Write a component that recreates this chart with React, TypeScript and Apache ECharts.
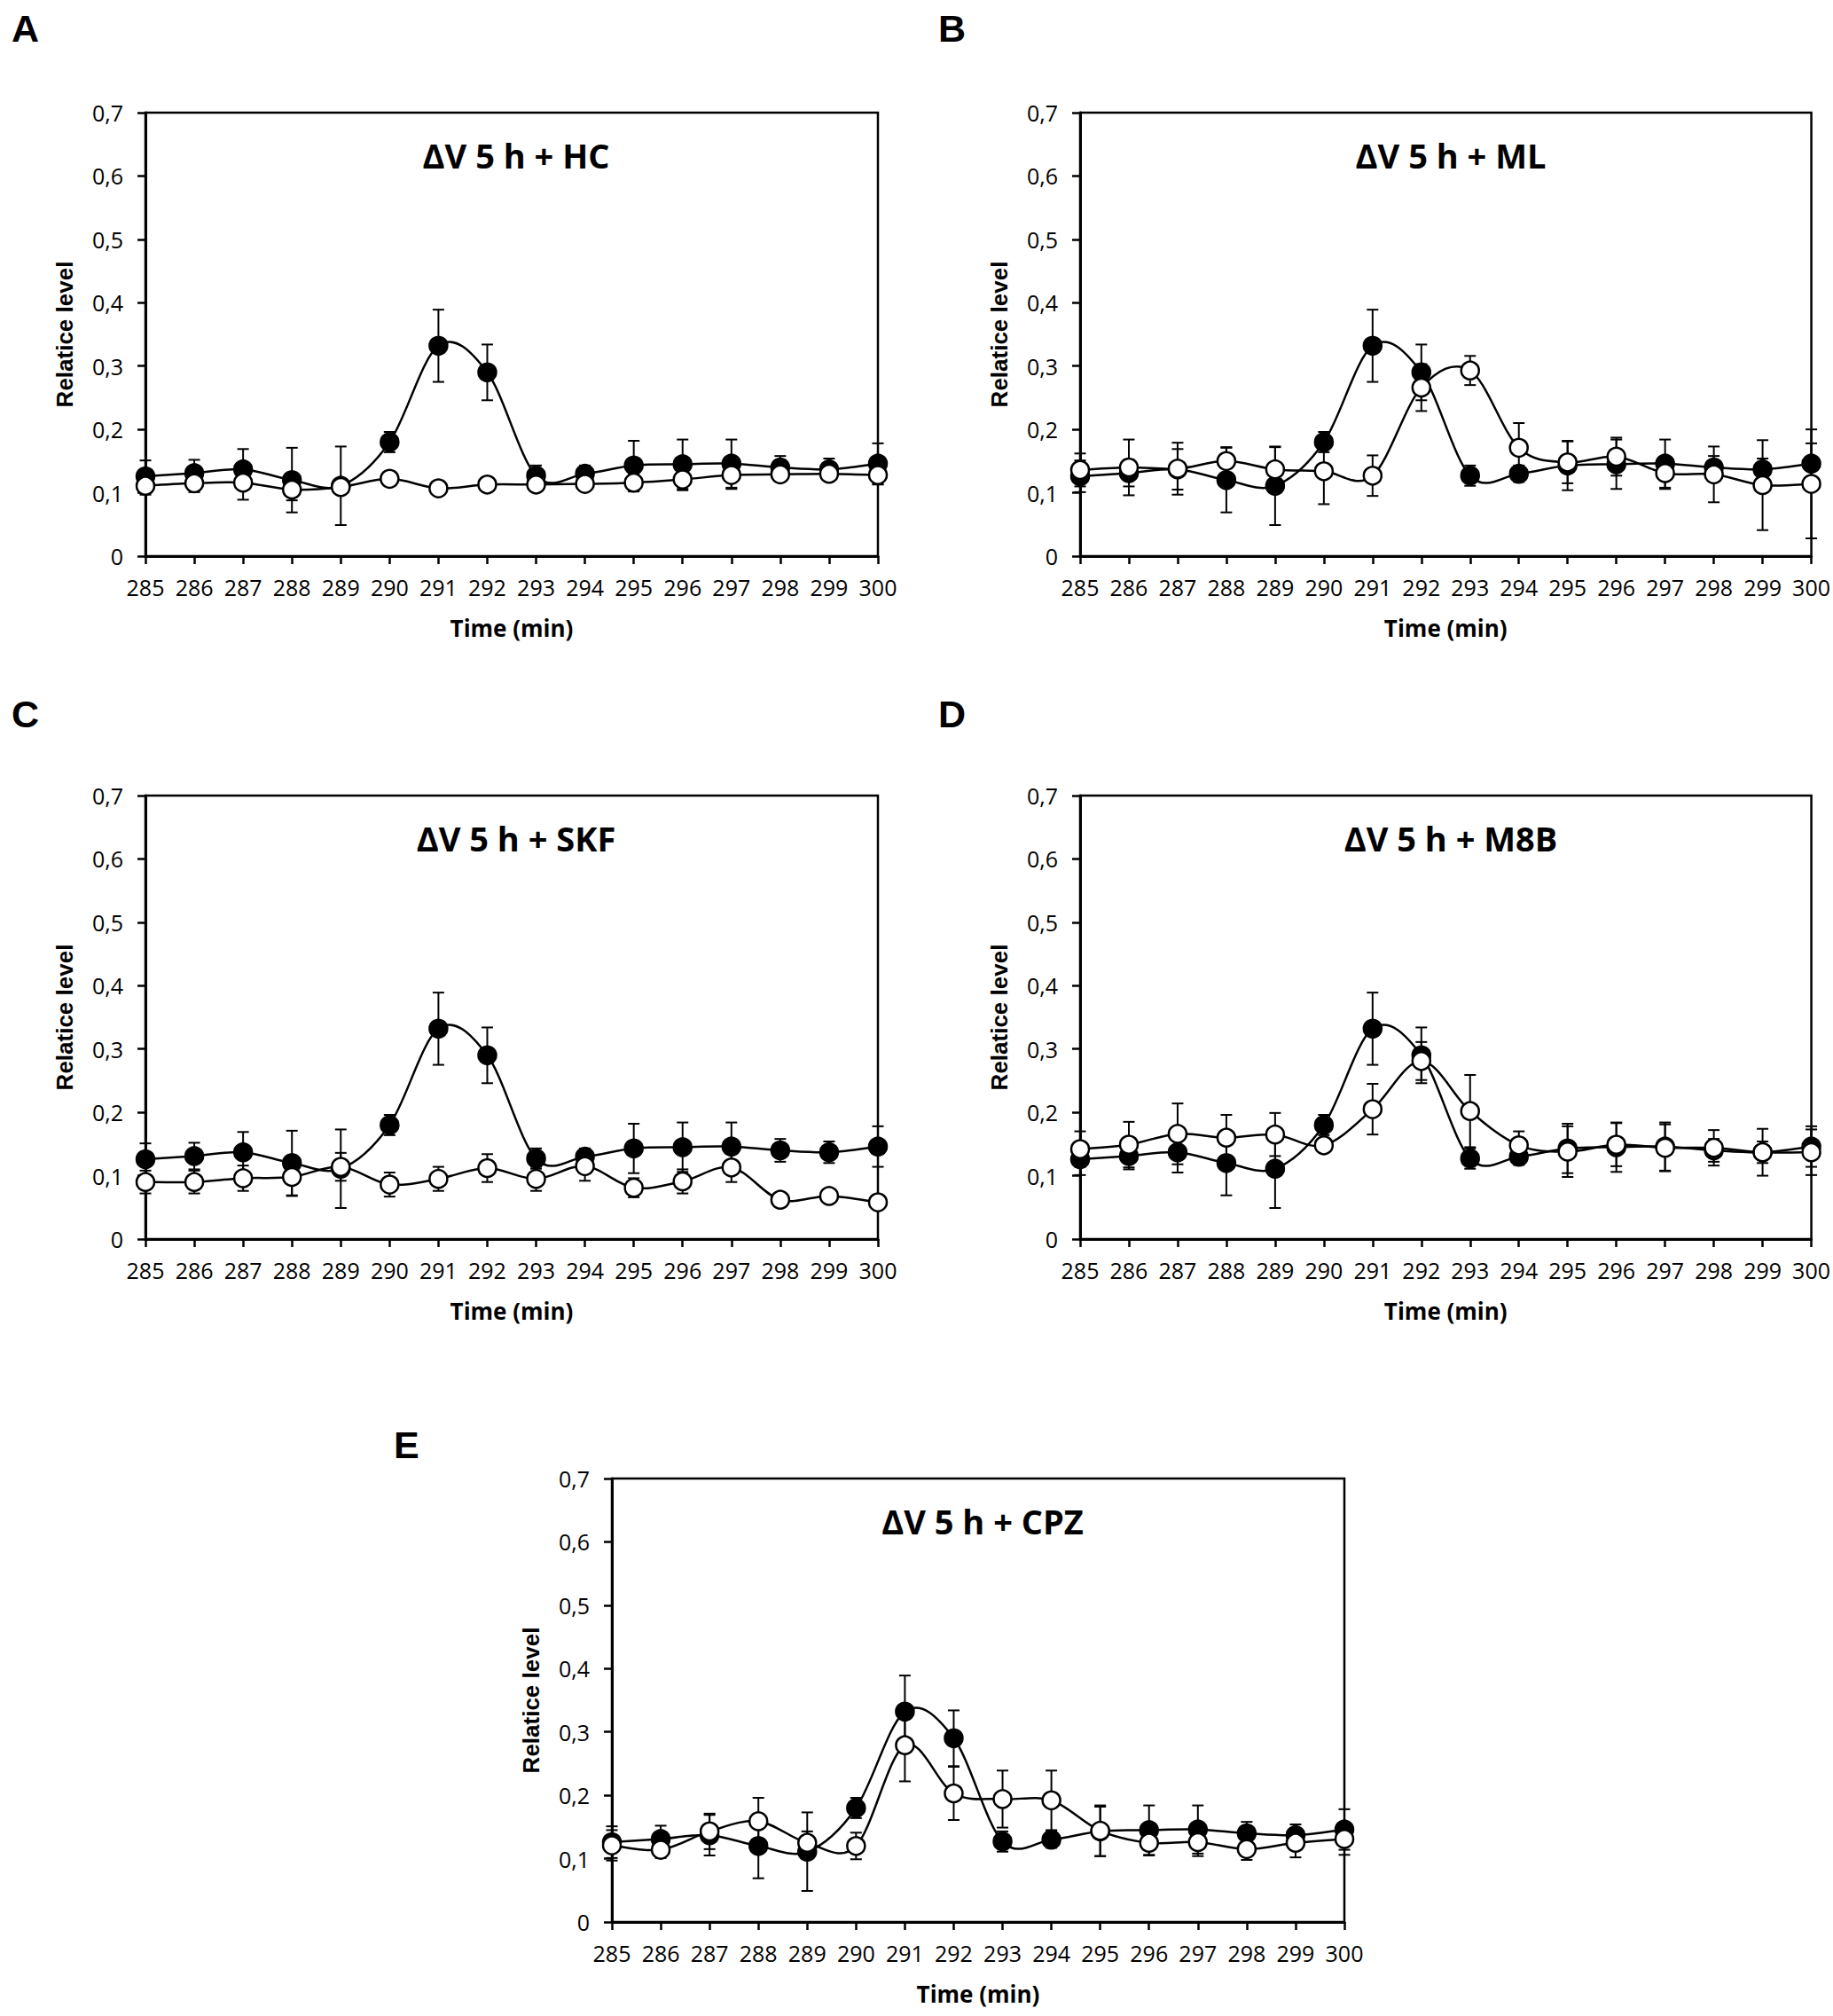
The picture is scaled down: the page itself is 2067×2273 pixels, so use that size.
import React, { useEffect, useRef } from "react";
import * as echarts from "echarts";

// ---- Data ----
const times = [285, 286, 287, 288, 289, 290, 291, 292, 293, 294, 295, 296, 297, 298, 299, 300];

// Filled circles: ΔV 5 h (same in every panel)
const controlValues = [0.126, 0.131, 0.137, 0.12, 0.111, 0.18, 0.332, 0.29, 0.127, 0.13, 0.143, 0.145, 0.146, 0.14, 0.137, 0.146];
const controlErrors = [0.025, 0.021, 0.032, 0.051, 0.062, 0.016, 0.057, 0.044, 0.016, 0.013, 0.039, 0.039, 0.038, 0.018, 0.017, 0.032];

// Open circles per treatment
const hcValues = [0.111, 0.115, 0.116, 0.105, 0.109, 0.122, 0.107, 0.113, 0.113, 0.114, 0.116, 0.121, 0.128, 0.129, 0.13, 0.128];
const hcErrors = [0.014, 0.014, 0.027, 0.017, 0.01, 0.005, 0.004, 0.004, 0.004, 0.006, 0.014, 0.017, 0.022, 0.006, 0.01, 0.015];

const mlValues = [0.136, 0.14, 0.138, 0.15, 0.137, 0.134, 0.127, 0.266, 0.293, 0.171, 0.148, 0.157, 0.131, 0.129, 0.112, 0.114];
const mlErrors = [0.026, 0.044, 0.041, 0.022, 0.035, 0.052, 0.032, 0.037, 0.023, 0.039, 0.033, 0.03, 0.025, 0.044, 0.071, 0.086];

const skfValues = [0.09, 0.09, 0.096, 0.098, 0.114, 0.086, 0.095, 0.112, 0.095, 0.115, 0.081, 0.091, 0.113, 0.062, 0.068, 0.058];
const skfErrors = [0.018, 0.018, 0.02, 0.03, 0.022, 0.019, 0.019, 0.022, 0.019, 0.023, 0.015, 0.019, 0.023, 0.01, 0.01, 0.008];

const m8bValues = [0.142, 0.149, 0.166, 0.16, 0.165, 0.148, 0.205, 0.281, 0.202, 0.148, 0.138, 0.149, 0.144, 0.144, 0.137, 0.137];
const m8bErrors = [0.028, 0.036, 0.048, 0.036, 0.034, 0.005, 0.04, 0.03, 0.057, 0.022, 0.04, 0.034, 0.037, 0.028, 0.037, 0.036];

const cpzValues = [0.121, 0.114, 0.143, 0.159, 0.125, 0.12, 0.279, 0.203, 0.194, 0.192, 0.144, 0.125, 0.126, 0.115, 0.125, 0.131];
const cpzErrors = [0.024, 0.013, 0.028, 0.037, 0.018, 0.021, 0.057, 0.042, 0.045, 0.047, 0.04, 0.02, 0.022, 0.017, 0.023, 0.025];

const panelLetters = ["A", "B", "C", "D", "E"];
const panelTitles = ["ΔV 5 h + HC", "ΔV 5 h + ML", "ΔV 5 h + SKF", "ΔV 5 h + M8B", "ΔV 5 h + CPZ"];
const treatmentValues = [hcValues, mlValues, skfValues, m8bValues, cpzValues];
const treatmentErrors = [hcErrors, mlErrors, skfErrors, m8bErrors, cpzErrors];

const xAxisName = "Time (min)";
const yAxisName = "Relatice level";

// ---- Layout ----
const W = 2067;
const H = 2273;
const PLOT_W = 826;
const PLOT_H = 500;
const gridPos = [
  { left: 164, top: 127 },
  { left: 1218, top: 127 },
  { left: 164, top: 897 },
  { left: 1218, top: 897 },
  { left: 690, top: 1667 },
];
const letterPos = [
  { x: 13, y: 32 },
  { x: 1058, y: 32 },
  { x: 13, y: 805 },
  { x: 1058, y: 805 },
  { x: 444, y: 1629 },
];

const CAL = "'Open Sans', 'DejaVu Sans', sans-serif";
const ARIAL = "'Liberation Sans', Arial, sans-serif";

function errorBarSeries(idx: number, vals: number[], errs: number[], z: number) {
  return {
    type: "custom",
    xAxisIndex: idx,
    yAxisIndex: idx,
    z,
    silent: true,
    clip: false,
    encode: { x: 0, y: 1 },
    data: times.map((t, i) => [t, vals[i], errs[i]]),
    renderItem: (_params: any, api: any) => {
      const x = api.value(0);
      const y = api.value(1);
      const e = api.value(2);
      const top = api.coord([x, y + e]);
      const bot = api.coord([x, y - e]);
      const hw = 6.5;
      const st = { stroke: "#000", lineWidth: 2 };
      return {
        type: "group",
        children: [
          { type: "line", shape: { x1: top[0], y1: top[1], x2: bot[0], y2: bot[1] }, style: st },
          { type: "line", shape: { x1: top[0] - hw, y1: top[1], x2: top[0] + hw, y2: top[1] }, style: st },
          { type: "line", shape: { x1: bot[0] - hw, y1: bot[1], x2: bot[0] + hw, y2: bot[1] }, style: st },
        ],
      };
    },
  };
}

// Excel-like smoothed line (Catmull-Rom / Bezier through the points, in pixel space)
function curveSeries(idx: number, vals: number[], z: number) {
  const n = times.length;
  return {
    type: "custom",
    xAxisIndex: idx,
    yAxisIndex: idx,
    z,
    silent: true,
    clip: false,
    encode: { x: [0, 2], y: [1, 3] },
    data: times.slice(0, n - 1).map((t, i) => [t, vals[i], times[i + 1], vals[i + 1]]),
    renderItem: (params: any, api: any) => {
      const i = params.dataIndex;
      const p = (k: number) => {
        const kk = Math.max(0, Math.min(n - 1, k));
        return api.coord([times[kk], vals[kk]]);
      };
      const p0 = p(i - 1);
      const p1 = p(i);
      const p2 = p(i + 1);
      const p3 = p(i + 2);
      const t = 1 / 6;
      return {
        type: "bezierCurve",
        shape: {
          x1: p1[0],
          y1: p1[1],
          x2: p2[0],
          y2: p2[1],
          cpx1: p1[0] + (p2[0] - p0[0]) * t,
          cpy1: p1[1] + (p2[1] - p0[1]) * t,
          cpx2: p2[0] - (p3[0] - p1[0]) * t,
          cpy2: p2[1] - (p3[1] - p1[1]) * t,
        },
        style: { stroke: "#000", lineWidth: 2.5, fill: "none" },
      };
    },
  };
}

function markerSeries(idx: number, vals: number[], filled: boolean, z: number) {
  return {
    type: "line",
    xAxisIndex: idx,
    yAxisIndex: idx,
    z,
    clip: false,
    symbol: "circle",
    symbolSize: 20,
    showSymbol: true,
    lineStyle: { width: 0, opacity: 0 },
    itemStyle: { color: filled ? "#000" : "#fff", borderColor: "#000", borderWidth: 2.5 },
    data: times.map((t, i) => [t, vals[i]]),
  };
}

export default function App() {
  const ref = useRef<HTMLDivElement>(null);

  useEffect(() => {
    document.body.style.margin = "0";
    if (!ref.current) return;
    const chart = echarts.init(ref.current, null, { renderer: "svg", width: W, height: H });

    const grids = gridPos.map((g) => ({
      left: g.left,
      top: g.top,
      width: PLOT_W,
      height: PLOT_H,
      show: true,
      borderColor: "#000",
      borderWidth: 2.5,
      backgroundColor: "#fff",
      containLabel: false,
    }));

    const xAxes = gridPos.map((_, i) => ({
      type: "value",
      gridIndex: i,
      min: 285,
      max: 300,
      interval: 1,
      splitLine: { show: false },
      axisLine: { show: true, onZero: false, lineStyle: { color: "#000", width: 3 } },
      axisTick: { show: true, inside: false, length: 9, lineStyle: { color: "#000", width: 2.5 } },
      axisLabel: { color: "#000", fontSize: 25, fontFamily: CAL, margin: 22 },
      name: xAxisName,
      nameLocation: "middle",
      nameGap: 68,
      nameTextStyle: { color: "#000", fontSize: 26, fontWeight: "bold", fontFamily: CAL },
    }));

    const yAxes = gridPos.map((_, i) => ({
      type: "value",
      gridIndex: i,
      min: 0,
      max: 0.7,
      interval: 0.1,
      splitLine: { show: false },
      axisLine: { show: true, lineStyle: { color: "#000", width: 3 } },
      axisTick: { show: true, inside: false, length: 9, lineStyle: { color: "#000", width: 2.5 } },
      axisLabel: {
        color: "#000",
        fontSize: 25,
        fontFamily: CAL,
        margin: 25,
        formatter: (v: number) => (Math.abs(v) < 1e-9 ? "0" : v.toFixed(1).replace(".", ",")),
      },
      name: yAxisName,
      nameLocation: "middle",
      nameGap: 78,
      nameTextStyle: { color: "#000", fontSize: 26, fontWeight: "bold", fontFamily: ARIAL },
    }));

    const series: any[] = [];
    gridPos.forEach((_, i) => {
      series.push(errorBarSeries(i, controlValues, controlErrors, 1));
      series.push(errorBarSeries(i, treatmentValues[i], treatmentErrors[i], 1));
      series.push(curveSeries(i, controlValues, 2));
      series.push(markerSeries(i, controlValues, true, 3));
      series.push(curveSeries(i, treatmentValues[i], 4));
      series.push(markerSeries(i, treatmentValues[i], false, 5));
    });

    const graphics: any[] = [];
    gridPos.forEach((g, i) => {
      graphics.push({
        type: "text",
        x: letterPos[i].x,
        y: letterPos[i].y,
        z: 10,
        style: {
          text: panelLetters[i],
          fill: "#000",
          fontSize: 43,
          fontWeight: "bold",
          fontFamily: ARIAL,
          align: "left",
          verticalAlign: "middle",
        },
      });
      graphics.push({
        type: "text",
        x: g.left + 418,
        y: g.top + 48,
        z: 10,
        style: {
          text: panelTitles[i],
          fill: "#000",
          fontSize: 38,
          fontWeight: "bold",
          fontFamily: CAL,
          align: "center",
          verticalAlign: "middle",
        },
      });
    });

    chart.setOption({
      animation: false,
      backgroundColor: "#fff",
      grid: grids,
      xAxis: xAxes,
      yAxis: yAxes,
      series,
      graphic: graphics,
    });

    return () => chart.dispose();
  }, []);

  return <div ref={ref} style={{ width: W, height: H, background: "#fff" }} />;
}
